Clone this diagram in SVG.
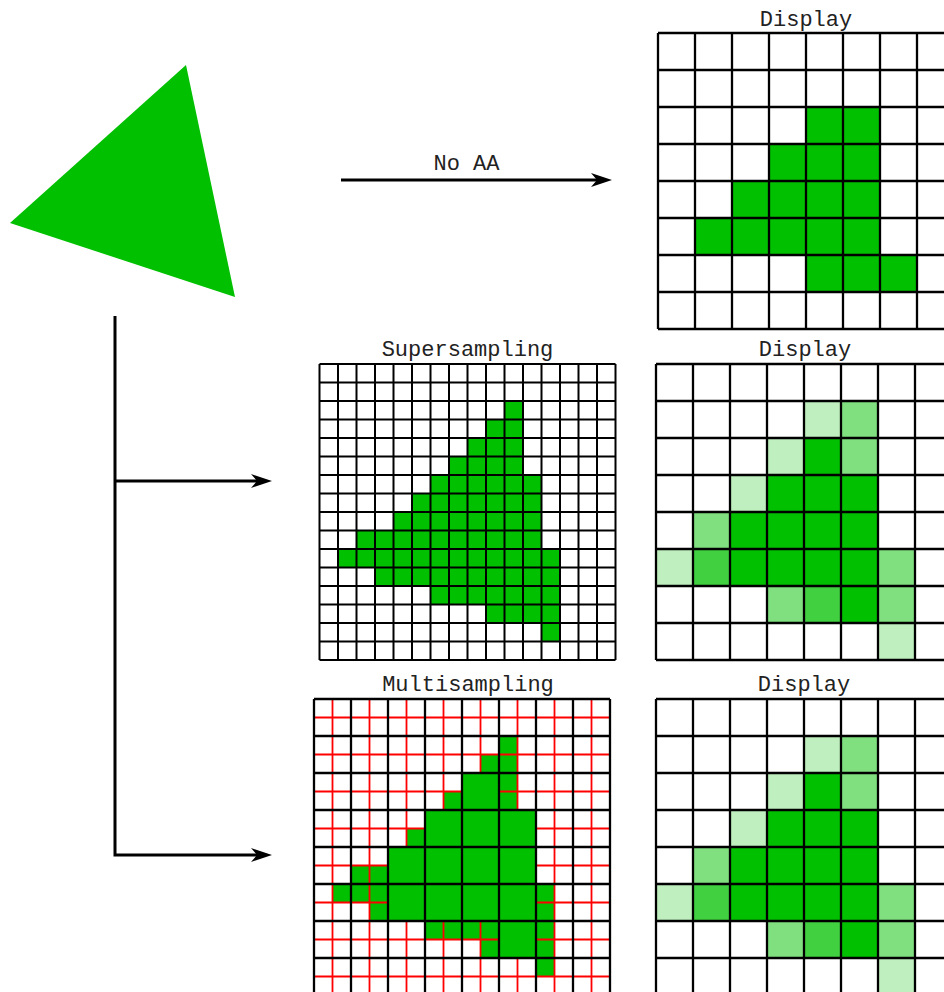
<svg xmlns="http://www.w3.org/2000/svg" width="944" height="992" viewBox="0 0 944 992">
<style>
.lbl{font-family:"Liberation Mono","Courier New",monospace;font-size:22px;fill:#222;text-anchor:middle}
.g100{fill:#00C000}
.g75{fill:#40D040}
.g50{fill:#80E080}
.g25{fill:#BFEFBF}
.grid{fill:none;stroke:#000;stroke-width:2.3}
.fine{fill:none;stroke:#000;stroke-width:2}
.red{fill:none;stroke:#FF0000;stroke-width:1.8}
.conn{fill:none;stroke:#000;stroke-width:3}
</style>
<defs>
<marker id="ah" viewBox="-22 -8 22 16" markerWidth="22" markerHeight="16" refX="-12" refY="0" orient="auto" markerUnits="userSpaceOnUse">
<path d="M0,0 L-21,-7 L-15,0 L-21,7 Z" fill="#000"/>
</marker>
<g id="aaCells">
<rect class="g25" x="804" y="401" width="37" height="37"/>
<rect class="g50" x="841" y="401" width="37" height="37"/>
<rect class="g25" x="767" y="438" width="37" height="37"/>
<rect class="g100" x="804" y="438" width="37" height="37"/>
<rect class="g50" x="841" y="438" width="37" height="37"/>
<rect class="g25" x="730" y="475" width="37" height="37"/>
<rect class="g100" x="767" y="475" width="111" height="37"/>
<rect class="g50" x="693" y="512" width="37" height="37"/>
<rect class="g100" x="730" y="512" width="148" height="37"/>
<rect class="g25" x="656" y="549" width="37" height="37"/>
<rect class="g75" x="693" y="549" width="37" height="37"/>
<rect class="g100" x="730" y="549" width="148" height="37"/>
<rect class="g50" x="878" y="549" width="37" height="37"/>
<rect class="g50" x="767" y="586" width="37" height="37"/>
<rect class="g75" x="804" y="586" width="37" height="37"/>
<rect class="g100" x="841" y="586" width="37" height="37"/>
<rect class="g50" x="878" y="586" width="37" height="37"/>
<rect class="g25" x="878" y="623" width="37" height="37"/>
<path class="grid" d="M656,364V660M693,364V660M730,364V660M767,364V660M804,364V660M841,364V660M878,364V660M915,364V660M952,364V660M656,364H952M656,401H952M656,438H952M656,475H952M656,512H952M656,549H952M656,586H952M656,623H952M656,660H952"/>
</g>
<g id="ssCells">
<rect class="g100" x="504.5" y="401" width="18.5" height="18.5"/>
<rect class="g100" x="486" y="419.5" width="37" height="18.5"/>
<rect class="g100" x="467.5" y="438" width="55.5" height="18.5"/>
<rect class="g100" x="449" y="456.5" width="74" height="18.5"/>
<rect class="g100" x="430.5" y="475" width="111" height="18.5"/>
<rect class="g100" x="412" y="493.5" width="129.5" height="18.5"/>
<rect class="g100" x="393.5" y="512" width="148" height="18.5"/>
<rect class="g100" x="356.5" y="530.5" width="185" height="18.5"/>
<rect class="g100" x="338" y="549" width="222" height="18.5"/>
<rect class="g100" x="375" y="567.5" width="185" height="18.5"/>
<rect class="g100" x="430.5" y="586" width="129.5" height="18.5"/>
<rect class="g100" x="486" y="604.5" width="74" height="18.5"/>
<rect class="g100" x="541.5" y="623" width="18.5" height="18.5"/>
</g>
</defs>
<rect x="0" y="0" width="944" height="992" fill="#fff"/>

<g id="triangle">
<polygon points="10,223 186,65 235,297" fill="#00C000"/>
</g>

<g id="display-noaa">
<text class="lbl" x="806" y="26">Display</text>
<rect x="658" y="33" width="296" height="296" fill="#fff"/>
<rect class="g100" x="806" y="107" width="74" height="37"/>
<rect class="g100" x="769" y="144" width="111" height="37"/>
<rect class="g100" x="732" y="181" width="148" height="37"/>
<rect class="g100" x="695" y="218" width="185" height="37"/>
<rect class="g100" x="806" y="255" width="111" height="37"/>
<path class="grid" d="M658,33V329M695,33V329M732,33V329M769,33V329M806,33V329M843,33V329M880,33V329M917,33V329M954,33V329M658,33H954M658,70H954M658,107H954M658,144H954M658,181H954M658,218H954M658,255H954M658,292H954M658,329H954"/>
</g>

<g id="supersampling">
<text class="lbl" x="467.5" y="356">Supersampling</text>
<use href="#ssCells"/>
<path class="fine" d="M319.5,364V660M338,364V660M356.5,364V660M375,364V660M393.5,364V660M412,364V660M430.5,364V660M449,364V660M467.5,364V660M486,364V660M504.5,364V660M523,364V660M541.5,364V660M560,364V660M578.5,364V660M597,364V660M615.5,364V660M319.5,364H615.5M319.5,382.5H615.5M319.5,401H615.5M319.5,419.5H615.5M319.5,438H615.5M319.5,456.5H615.5M319.5,475H615.5M319.5,493.5H615.5M319.5,512H615.5M319.5,530.5H615.5M319.5,549H615.5M319.5,567.5H615.5M319.5,586H615.5M319.5,604.5H615.5M319.5,623H615.5M319.5,641.5H615.5M319.5,660H615.5"/>
</g>

<g id="display-ss">
<text class="lbl" x="805" y="356">Display</text>
<use href="#aaCells"/>
</g>

<g id="multisampling">
<text class="lbl" x="468" y="691">Multisampling</text>
<use href="#ssCells" transform="translate(-5.5,335)"/>
<path class="red" d="M332.5,699V995M369.5,699V995M406.5,699V995M443.5,699V995M480.5,699V995M517.5,699V995M554.5,699V995M591.5,699V995M314,717.5H610M314,754.5H610M314,791.5H610M314,828.5H610M314,865.5H610M314,902.5H610M314,939.5H610M314,976.5H610"/>
<rect class="g100" x="462" y="773" width="37" height="37"/>
<rect class="g100" x="425" y="810" width="111" height="37"/>
<rect class="g100" x="388" y="847" width="148" height="74"/>
<rect class="g100" x="499" y="921" width="37" height="37"/>
<path class="grid" d="M314,699V995M351,699V995M388,699V995M425,699V995M462,699V995M499,699V995M536,699V995M573,699V995M610,699V995M314,699H610M314,736H610M314,773H610M314,810H610M314,847H610M314,884H610M314,921H610M314,958H610M314,995H610"/>
</g>

<g id="display-ms">
<text class="lbl" x="804" y="691">Display</text>
<use href="#aaCells" transform="translate(0,335)"/>
</g>

<g id="connectors">
<path class="conn" d="M341,180H600" marker-end="url(#ah)"/>
<text class="lbl" x="466.5" y="170">No AA</text>
<path class="conn" d="M115,316V855H260" marker-end="url(#ah)"/>
<path class="conn" d="M115,481H260" marker-end="url(#ah)"/>
</g>
</svg>
